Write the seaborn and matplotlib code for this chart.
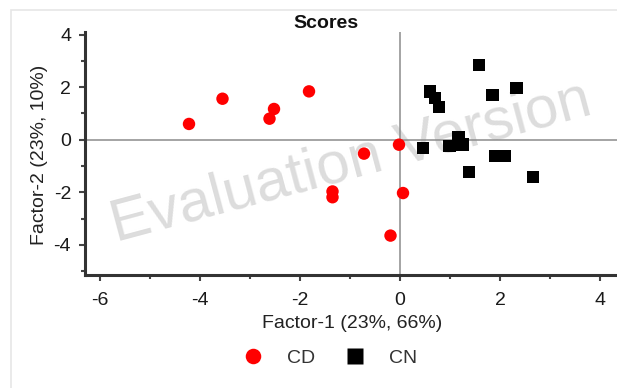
import matplotlib
matplotlib.use("Agg")
import matplotlib.pyplot as plt
import seaborn as sns
import pandas as pd
from matplotlib.patches import Rectangle

# Data
cd_x = [-4.22, -3.55, -2.52, -2.61, -1.82, -0.72, -0.02, -1.35, -1.35, 0.06, -0.19]
cd_y = [0.60, 1.56, 1.17, 0.80, 1.84, -0.53, -0.19, -1.97, -2.19, -2.03, -3.65]
cn_x = [1.58, 2.33, 1.85, 0.60, 0.70, 0.78, 1.17, 0.99, 1.25, 0.46, 1.91, 2.10, 1.38, 2.66]
cn_y = [2.85, 1.97, 1.71, 1.84, 1.58, 1.24, 0.09, -0.25, -0.19, -0.32, -0.61, -0.61, -1.23, -1.42]
groups = ["CD", "CN"]
x_ticks = [-6, -4, -2, 0, 2, 4]
y_ticks = [-4, -2, 0, 2, 4]

df = pd.DataFrame({
    "Factor-1": cd_x + cn_x,
    "Factor-2": cd_y + cn_y,
    "Group": [groups[0]] * len(cd_x) + [groups[1]] * len(cn_x),
})

sns.set_style("white")
plt.rcParams["font.family"] = ["Liberation Sans", "DejaVu Sans"]
plt.rcParams["axes.unicode_minus"] = False

W, H = 617, 388
fig = plt.figure(figsize=(W / 100, H / 100), dpi=100)

# light frame
fig.patches.append(Rectangle((11 / W, -0.1), 1.2, 1 - 10 / H + 0.1, transform=fig.transFigure,
                             fill=False, edgecolor="#e6e6e6", linewidth=1.2))

ax = fig.add_axes([85 / W, 1 - 275 / H, 545 / W, (275 - 32) / H])
ax.set_xlim(-6.3, 4.6)
ax.set_ylim(-5.15, 4.1)

ax.axhline(0, color="#8c8c8c", lw=1.1, zorder=1)
ax.axvline(0, color="#8c8c8c", lw=1.1, zorder=1)

# watermark
ax.text(-0.98, -0.85, "Evaluation Version", fontsize=43, color="#d9d9d9", rotation=15,
        ha="center", va="center", zorder=0.5, alpha=0.9)

sns.scatterplot(data=df, x="Factor-1", y="Factor-2", hue="Group", style="Group",
                palette={"CD": "#ff0000", "CN": "#000000"},
                markers={"CD": "o", "CN": "s"}, s=80, edgecolor="none",
                ax=ax, zorder=3, legend=True)

ax.set_xticks(x_ticks)
ax.set_yticks(y_ticks)
ax.set_xticks([-5, -3, -1, 1, 3], minor=True)
ax.set_yticks([-5, -3, -1, 1, 3], minor=True)
ax.tick_params(axis="both", which="major", direction="out", length=4, width=1.5,
               color="#444444", labelsize=14, labelcolor="#1a1a1a",
               bottom=True, left=True)
ax.tick_params(axis="x", which="major", pad=8)
ax.tick_params(axis="y", which="major", pad=6)
ax.tick_params(axis="both", which="minor", direction="out", length=3, width=1.5,
               color="#444444", bottom=True, left=True)

for side in ["top", "right"]:
    ax.spines[side].set_visible(False)
for side in ["left", "bottom"]:
    ax.spines[side].set_color("#333333")
    ax.spines[side].set_linewidth(2.2)

ax.set_xlabel("")
ax.set_ylabel("")
fig.text(352 / W, 1 - 324 / H, "Factor-1 (23%, 66%)", ha="center", va="center",
         fontsize=14, color="#222222")
fig.text(40 / W, 1 - 155 / H, "Factor-2 (23%, 10%)", ha="center", va="center",
         rotation=90, fontsize=14, color="#222222")
fig.text(326 / W, 1 - 23 / H, "Scores", ha="center", va="center",
         fontsize=14, fontweight="bold", color="#111111")

leg = ax.legend(loc="center", bbox_to_anchor=(325 / W, 1 - 358 / H),
                bbox_transform=fig.transFigure, ncol=2, frameon=False,
                handletextpad=0.75, columnspacing=1.05, fontsize=14, markerscale=1.25,
                handlelength=2.0)
for t in leg.get_texts():
    t.set_color("#333333")

fig.savefig("out.png", dpi=100)
